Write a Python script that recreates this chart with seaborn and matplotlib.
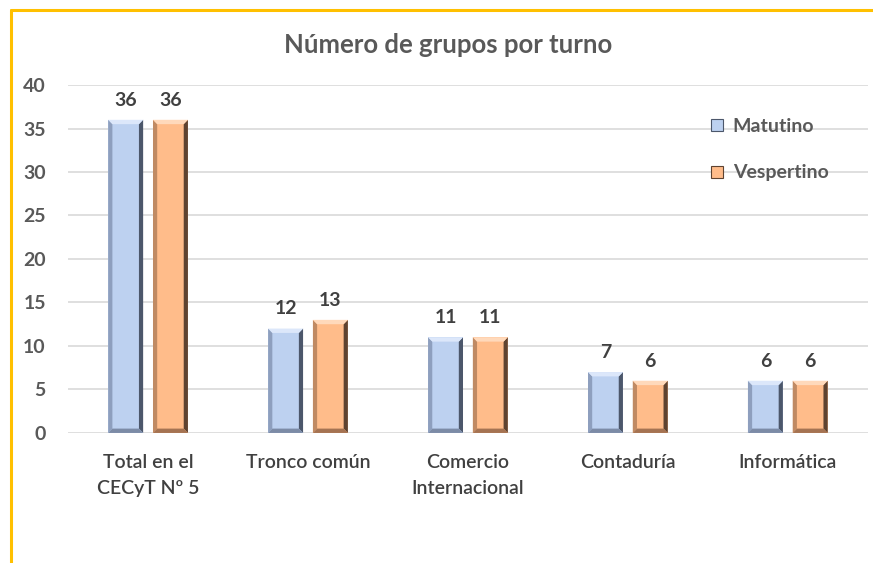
import numpy as np
import pandas as pd
import seaborn as sns
import matplotlib.pyplot as plt
from matplotlib.lines import Line2D
from matplotlib.patches import Polygon

# datos del grafico
categorias = ["Total en el\nCECyT Nº 5", "Tronco común", "Comercio\nInternacional",
              "Contaduría", "Informática"]
turnos = ["Matutino", "Vespertino"]
matutino = [36, 12, 11, 7, 6]
vespertino = [36, 13, 11, 6, 6]
yticks = [0, 5, 10, 15, 20, 25, 30, 35, 40]

df = pd.DataFrame({
    "categoria": categorias * 2,
    "turno": [turnos[0]] * len(matutino) + [turnos[1]] * len(vespertino),
    "grupos": matutino + vespertino,
})

sns.set_theme(style="white")
plt.rcParams['font.family'] = ['Lato', 'DejaVu Sans']

# colores: cara, izquierda, derecha, arriba, abajo
colores = {
    "Matutino": ["#BDD1F0", "#8E9FBE", "#4C576B", "#DCE7FA", "#7C8BA6"],
    "Vespertino": ["#FFBC8A", "#C08A63", "#5E4331", "#FFD9BB", "#A57352"],
}
gris = "#595959"

fig = plt.figure(figsize=(8.73, 5.63), dpi=100)
ax = fig.add_axes([0.078, 0.231, 0.916, 0.618])

sns.barplot(data=df, x="categoria", y="grupos", hue="turno", order=categorias,
            hue_order=turnos, palette={t: colores[t][0] for t in turnos},
            width=0.56, gap=0.22, saturation=1, legend=False, ax=ax,
            edgecolor="none", zorder=3)

ax.set_ylim(0, 40)
ax.set_yticks(yticks)
ax.yaxis.grid(True, color="#D9D9D9", linewidth=1.2, zorder=0)
ax.set_axisbelow(True)
for s in ax.spines.values():
    s.set_visible(False)
ax.set_xlabel("")
ax.set_ylabel("")
ax.tick_params(axis="y", length=0, pad=16, labelsize=14, labelcolor=gris)
ax.tick_params(axis="x", length=0, pad=15, labelsize=14, labelcolor="#404040")
for lab in ax.get_yticklabels():
    lab.set_fontweight("bold")
for lab in ax.get_xticklabels():
    lab.set_multialignment("center")
    lab.set_verticalalignment("top")
    lab.set_linespacing(1.65)
    lab.set_fontweight(600)

# efecto bisel
by = 0.5
for cont, t in zip(ax.containers, turnos):
    c = colores[t]
    for p in cont.patches:
        x0, y0 = p.get_x(), p.get_y()
        w, h = p.get_width(), p.get_height()
        x1, y1 = x0 + w, y0 + h
        bx = w * 0.12
        caras = [
            ([(x0, y0), (x0 + bx, y0 + by), (x0 + bx, y1 - by), (x0, y1)], c[1]),
            ([(x1, y0), (x1 - bx, y0 + by), (x1 - bx, y1 - by), (x1, y1)], c[2]),
            ([(x0, y1), (x0 + bx, y1 - by), (x1 - bx, y1 - by), (x1, y1)], c[3]),
            ([(x0, y0), (x0 + bx, y0 + by), (x1 - bx, y0 + by), (x1, y0)], c[4]),
        ]
        for pts, col in caras:
            ax.add_patch(Polygon(pts, closed=True, facecolor=col, edgecolor="none", zorder=4))
    ax.bar_label(cont, padding=8, fontsize=14, fontweight="bold", color="#404040", zorder=5)

# leyenda
handles = [Line2D([], [], marker="s", linestyle="none", markersize=9,
                  markerfacecolor=colores[t][0], markeredgecolor=colores[t][2],
                  markeredgewidth=0.8) for t in turnos]
leg = ax.legend(handles, turnos, loc="upper left", bbox_to_anchor=(0.78, 0.955),
                frameon=False, labelspacing=1.5, handlelength=0.8, handletextpad=0.4,
                prop={"size": 14, "weight": "bold"})
for txt in leg.get_texts():
    txt.set_color(gris)

fig.text(0.513, 0.92, "Número de grupos por turno", ha="center", va="center",
         fontsize=18.5, fontweight="bold", color=gris)

# marco amarillo
fig.add_artist(Line2D([0.0126, 1.0], [0.983, 0.983], color="#FFC000", linewidth=2.2))
fig.add_artist(Line2D([0.0126, 0.0126], [0.0, 0.983], color="#FFC000", linewidth=2.2))

fig.savefig("out.png", dpi=100)
